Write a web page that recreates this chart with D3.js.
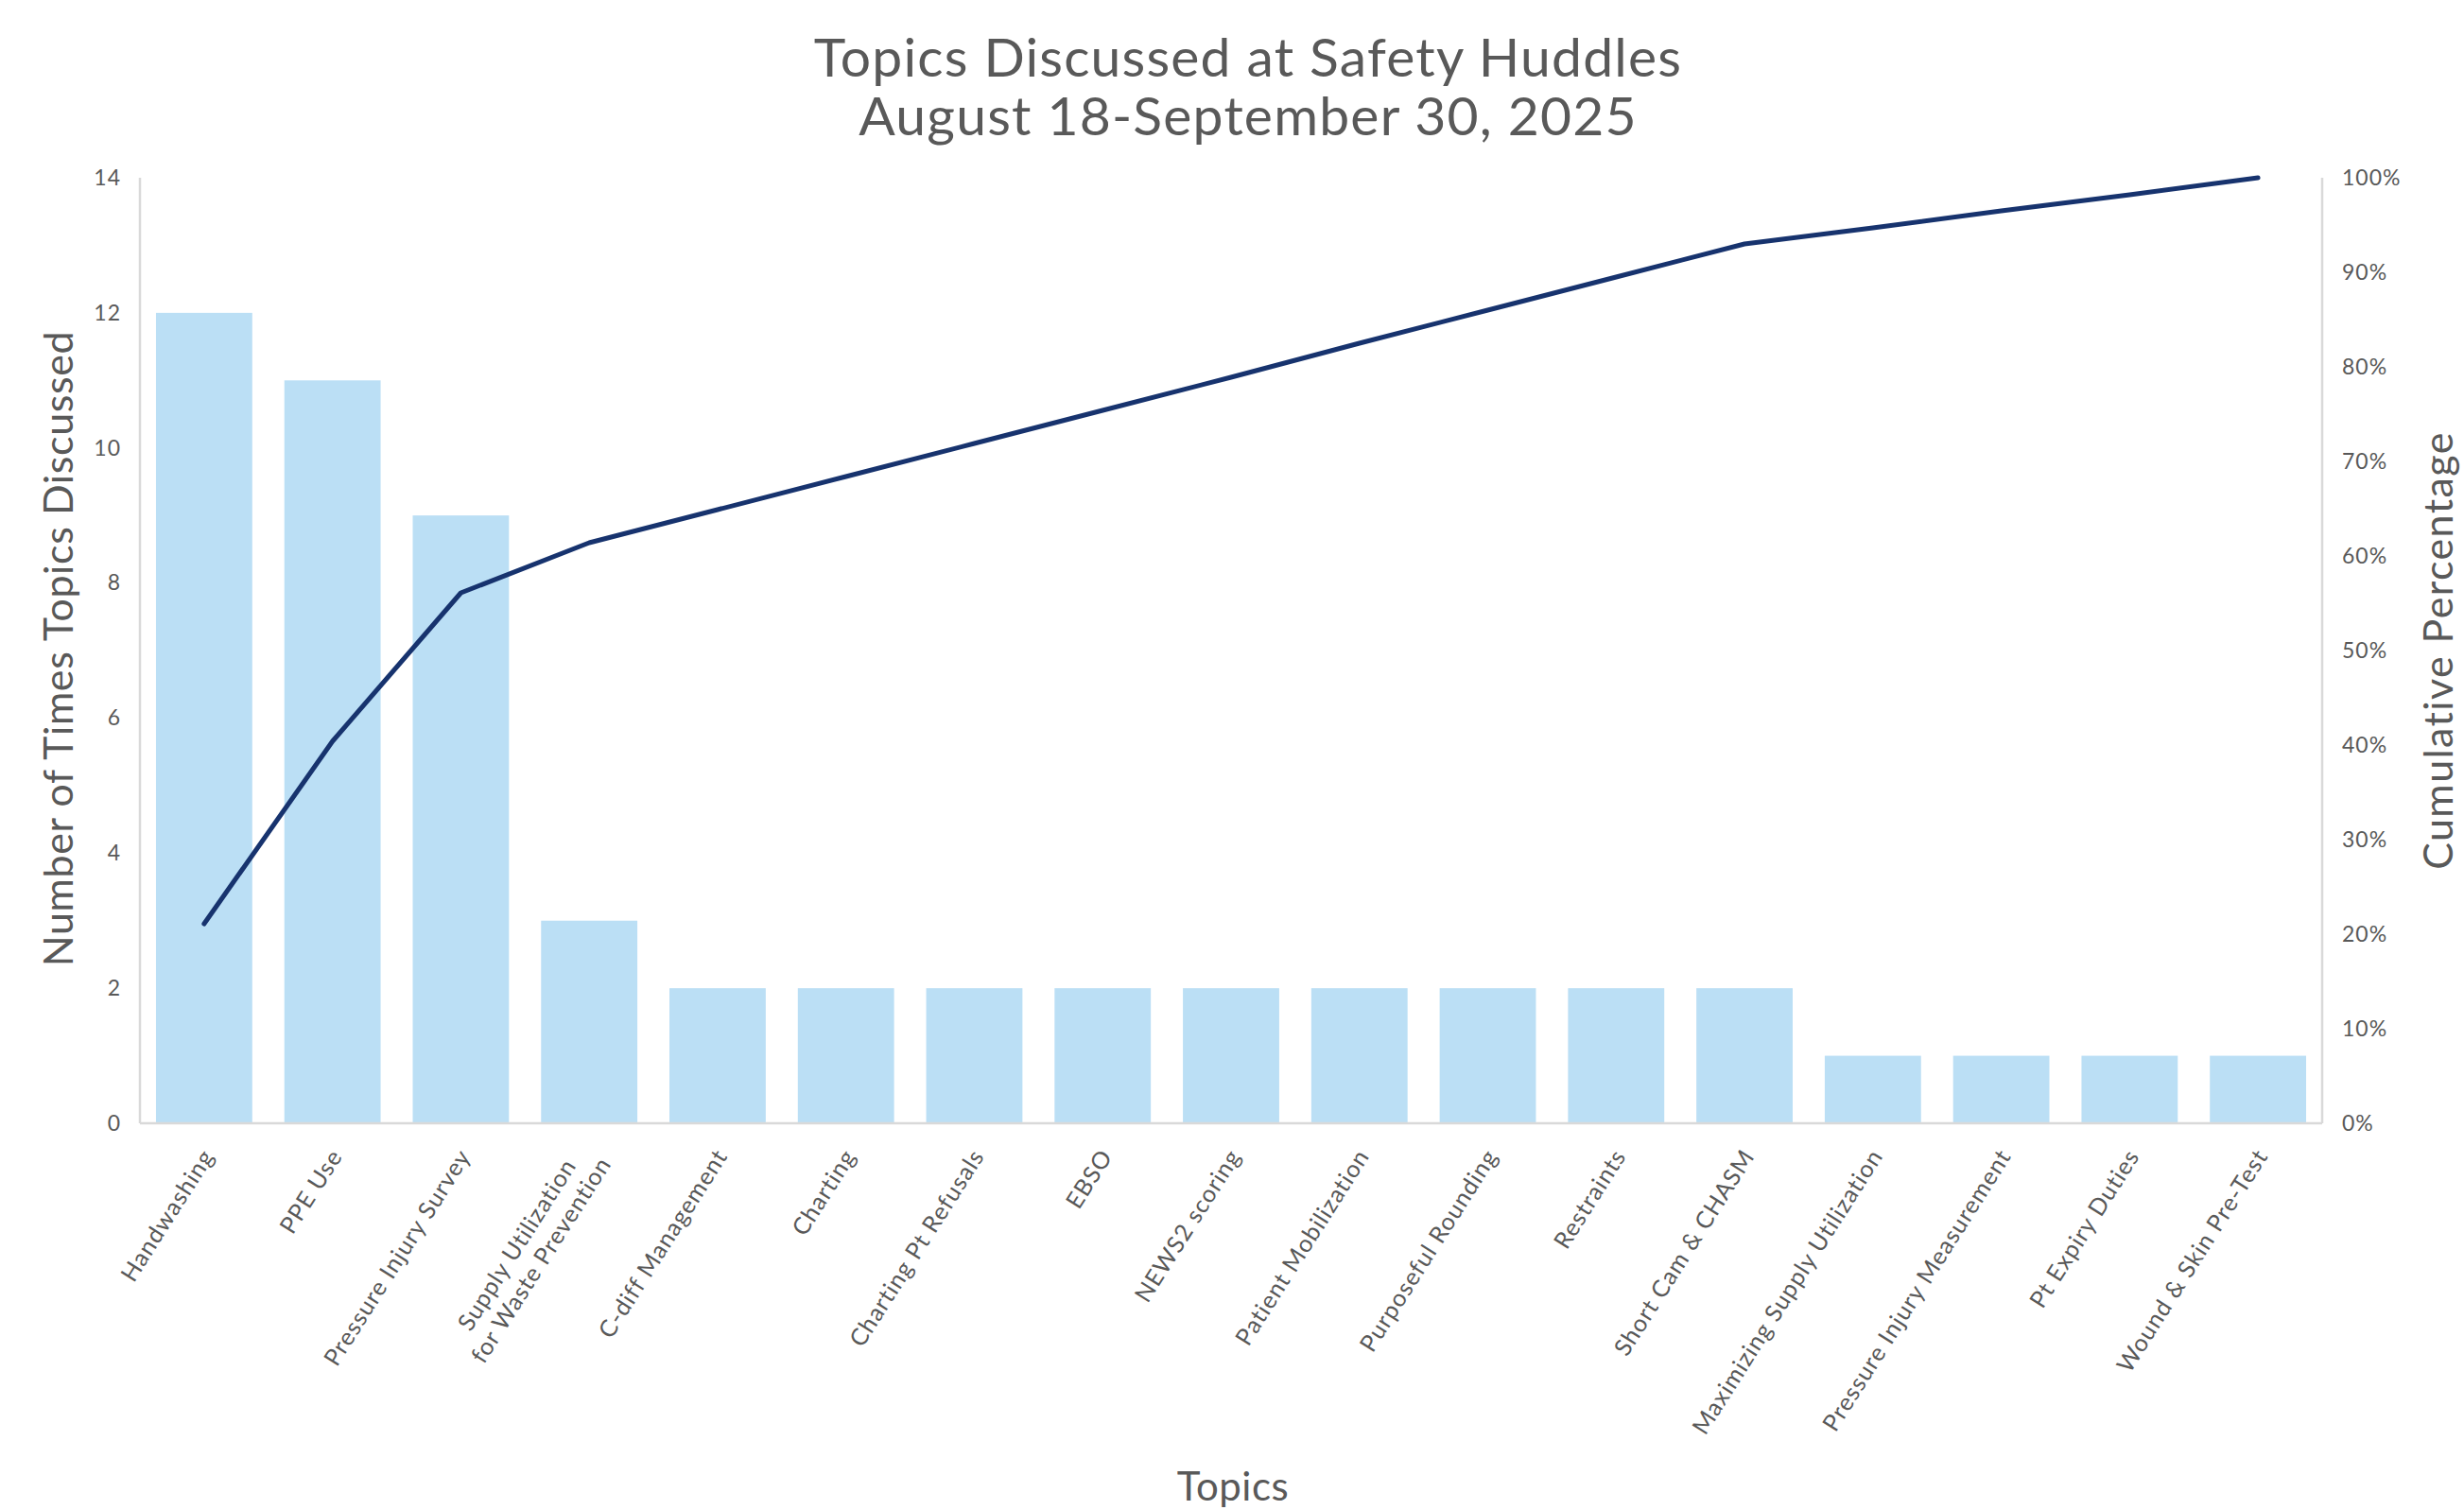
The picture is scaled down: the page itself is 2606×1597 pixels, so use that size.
<!DOCTYPE html>
<html>
<head>
<meta charset="utf-8">
<script src="https://cdn.jsdelivr.net/npm/d3@7"></script>
<style>
  html, body { margin: 0; padding: 0; background: #ffffff; }
  svg { display: block; }
  text { font-family: Lato, "Open Sans", sans-serif; fill: #595959; }
</style>
</head>
<body>
<svg id="chart" width="2606" height="1597"></svg>
<script>
// ---- Data ----
const titleLines = ["Topics Discussed at Safety Huddles", "August 18-September 30, 2025"];
const topics = [
  ["Handwashing"],
  ["PPE Use"],
  ["Pressure Injury Survey"],
  ["Supply Utilization", "for Waste Prevention"],
  ["C-diff Management"],
  ["Charting"],
  ["Charting Pt Refusals"],
  ["EBSO"],
  ["NEWS2 scoring"],
  ["Patient Mobilization"],
  ["Purposeful Rounding"],
  ["Restraints"],
  ["Short Cam & CHASM"],
  ["Maximizing Supply Utilization"],
  ["Pressure Injury Measurement"],
  ["Pt Expiry Duties"],
  ["Wound & Skin Pre-Test"]
];
const counts = [12, 11, 9, 3, 2, 2, 2, 2, 2, 2, 2, 2, 2, 1, 1, 1, 1];
const cumulativePct = [21.1, 40.4, 56.1, 61.4, 64.9, 68.4, 71.9, 75.4, 78.9, 82.5, 86.0, 89.5, 93.0, 94.7, 96.5, 98.2, 100];
const leftTicks = [0, 2, 4, 6, 8, 10, 12, 14];
const rightTicks = [0, 10, 20, 30, 40, 50, 60, 70, 80, 90, 100];
const leftAxisTitle = "Number of Times Topics Discussed";
const rightAxisTitle = "Cumulative Percentage";
const xAxisTitle = "Topics";

// ---- Layout ----
const svg = d3.select("#chart");
const plot = { left: 148, right: 2456, top: 188, bottom: 1188 };
const barColor = "#bbdff5";
const lineColor = "#17336e";
const axisColor = "#d9d9d9";

const keys = topics.map((t, i) => i);
const x = d3.scaleBand().domain(keys).range([plot.left, plot.right])
  .paddingInner(0.25).paddingOuter(0.125);
const yL = d3.scaleLinear().domain([0, 14]).range([plot.bottom, plot.top]);
const yR = d3.scaleLinear().domain([0, 100]).range([plot.bottom, plot.top]);

// Bars
svg.append("g").selectAll("rect").data(counts).join("rect")
  .attr("x", (d, i) => x(i))
  .attr("y", d => yL(d))
  .attr("width", x.bandwidth())
  .attr("height", d => yL(0) - yL(d))
  .attr("fill", barColor);

// Axis lines
const axG = svg.append("g").attr("stroke", axisColor).attr("stroke-width", 2.5);
axG.append("line").attr("x1", plot.left).attr("x2", plot.left).attr("y1", plot.top).attr("y2", plot.bottom);
axG.append("line").attr("x1", plot.right).attr("x2", plot.right).attr("y1", plot.top).attr("y2", plot.bottom);
axG.append("line").attr("x1", plot.left).attr("x2", plot.right).attr("y1", plot.bottom).attr("y2", plot.bottom);

// Left axis ticks
const leftAxis = d3.axisLeft(yL).tickValues(leftTicks).tickSize(0).tickPadding(20);
const gl = svg.append("g").attr("transform", `translate(${plot.left},0)`).call(leftAxis);
gl.select(".domain").remove();
gl.selectAll("text").style("font-size", "23px").style("letter-spacing", "1px")
  .attr("fill", "#595959").style("font-family", "Lato, sans-serif");

const rightAxis = d3.axisRight(yR).tickValues(rightTicks).tickSize(0).tickPadding(21)
  .tickFormat(d => d + "%");
const gr = svg.append("g").attr("transform", `translate(${plot.right},0)`).call(rightAxis);
gr.select(".domain").remove();
gr.selectAll("text").style("font-size", "23px").style("letter-spacing", "1px")
  .attr("fill", "#595959").style("font-family", "Lato, sans-serif");

// Cumulative line
const line = d3.line()
  .x((d, i) => x(i) + x.bandwidth() / 2)
  .y(d => yR(d));
svg.append("path").datum(cumulativePct)
  .attr("d", line)
  .attr("fill", "none")
  .attr("stroke", lineColor)
  .attr("stroke-width", 5)
  .attr("stroke-linejoin", "round")
  .attr("stroke-linecap", "round");

// X labels (rotated)
const angle = -57.5;
const xlab = svg.append("g");
topics.forEach((lines, i) => {
  const cx = x(i) + x.bandwidth() / 2 + 4;
  const cy = plot.bottom + 30;
  const g = xlab.append("g").attr("transform", `translate(${cx},${cy}) rotate(${angle})`);
  const lh = 30;
  const n = lines.length;
  const texts = lines.map((s, k) => g.append("text")
    .attr("x", 0)
    .attr("y", (k - (n - 1) / 2) * lh)
    .attr("dy", "0.35em")
    .attr("text-anchor", "end")
    .style("font-size", "25px")
    .style("letter-spacing", "1px")
    .text(s));
  if (n > 1) {
    const widths = texts.map(t => t.node().getComputedTextLength());
    const maxW = Math.max(...widths);
    texts.forEach((t, k) => t.attr("x", -(maxW - widths[k]) / 2));
  }
});

// Titles
const title = svg.append("text").attr("text-anchor", "middle")
  .style("font-size", "57px").style("letter-spacing", "1.2px");
title.append("tspan").attr("x", 1320).attr("y", 81).text(titleLines[0]);
title.append("tspan").attr("x", 1320).attr("y", 143).text(titleLines[1]);

svg.append("text")
  .attr("transform", `translate(77,686) rotate(-90)`)
  .attr("text-anchor", "middle")
  .style("font-size", "43px")
  .style("letter-spacing", "0.6px")
  .text(leftAxisTitle);

svg.append("text")
  .attr("transform", `translate(2594,688) rotate(-90)`)
  .attr("text-anchor", "middle")
  .style("font-size", "43px")
  .style("letter-spacing", "1.4px")
  .text(rightAxisTitle);

svg.append("text")
  .attr("x", 1304).attr("y", 1587)
  .attr("text-anchor", "middle")
  .style("font-size", "42px")
  .style("letter-spacing", "0.5px")
  .text(xAxisTitle);
</script>
</body>
</html>
